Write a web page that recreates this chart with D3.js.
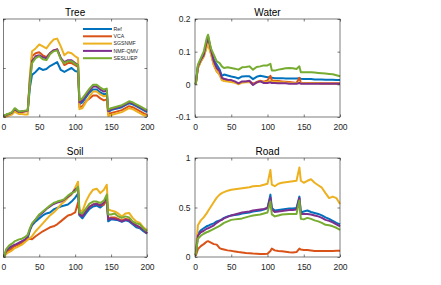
<!DOCTYPE html>
<html>
<head>
<meta charset="utf-8">
<script src="https://cdn.jsdelivr.net/npm/d3@7"></script>
<style>
  body { margin: 0; background: #fff; }
  svg { display: block; font-family: "Liberation Sans", Arial, sans-serif; }
</style>
</head>
<body>
<div id="vis"></div>
<script>
// band positions shared by every panel
const BANDS = [1, 4, 8, 12, 16, 18, 22, 26, 30, 34, 37, 40, 45, 50, 55, 60, 65, 70, 75, 80,
  85, 90, 95, 100, 104, 106, 110, 115, 120, 125, 130, 135, 140, 144, 146, 150, 155, 160,
  165, 170, 175, 180, 185, 190, 195, 200];

const SERIES_NAMES = ["Ref", "VCA", "SGSNMF", "NMF-QMV", "SESLUEP"];
const X_TICKS = [0, 50, 100, 150, 200];

// Tree
const TREE_REF = [.01,.02,.03,.04,.08,.07,.05,.055,.06,.065,.30,.43,.46,.50,.48,.49,.52,.54,.56,.48,
  .46,.48,.50,.47,.46,.13,.15,.20,.25,.28,.28,.25,.23,.24,.05,.07,.08,.09,.10,.12,.14,.13,.11,.09,.07,.05];
const TREE_VCA = [.01,.02,.03,.04,.075,.065,.045,.05,.055,.06,.40,.62,.65,.66,.63,.61,.65,.68,.69,.60,
  .53,.55,.55,.53,.51,.10,.11,.16,.19,.22,.22,.19,.17,.18,.03,.04,.05,.06,.07,.09,.11,.10,.08,.06,.04,.02];
const TREE_SGSNMF = [0,.005,.015,.025,.055,.045,.03,.03,.025,.025,.42,.67,.70,.74,.72,.70,.75,.79,.80,.72,
  .63,.66,.65,.62,.60,.08,.09,.15,.21,.26,.26,.23,.21,.22,.01,.02,.03,.04,.05,.07,.09,.08,.06,.04,.02,.01];
const TREE_QMV = [.01,.02,.03,.045,.08,.07,.05,.055,.06,.065,.36,.57,.62,.63,.61,.60,.65,.68,.69,.60,
  .56,.58,.58,.55,.53,.15,.17,.22,.27,.31,.31,.28,.26,.27,.06,.08,.09,.10,.11,.13,.15,.14,.12,.10,.08,.06];
const TREE_SESLUEP = [.015,.025,.035,.05,.09,.08,.055,.06,.065,.07,.34,.55,.60,.62,.59,.58,.64,.67,.68,.59,
  .55,.57,.57,.54,.53,.17,.19,.24,.29,.33,.33,.30,.28,.29,.075,.09,.10,.11,.12,.14,.16,.15,.13,.11,.09,.07];

// Water
const WATER_REF = [0,.055,.075,.09,.125,.14,.105,.075,.06,.045,.026,.03,.027,.024,.022,.018,.024,.025,.025,.016,
  .023,.026,.024,.022,.022,.02,.019,.019,.019,.018,.018,.018,.018,.019,.017,.016,.016,.016,.015,.015,.015,.014,.014,.014,.013,.013];
const WATER_VCA = [0,.05,.07,.085,.115,.127,.095,.06,.04,.03,.016,.012,.011,.009,.006,.002,.007,.008,.009,.002,
  .007,.011,.008,.012,.026,.012,.011,.01,.009,.008,.007,.006,.004,.02,.004,.004,.004,.004,.004,.004,.003,.003,.003,.003,.003,.003];
const WATER_SGSNMF = [0,.05,.07,.085,.112,.123,.093,.058,.04,.028,.013,.01,.009,.007,.005,0,.005,.006,.007,0,
  .005,.009,.006,.008,.01,.008,.008,.007,.006,.006,.005,.004,.003,.006,.003,.003,.003,.003,.003,.003,.002,.002,.002,.002,.002,.002];
const WATER_QMV = [0,.055,.075,.09,.13,.147,.105,.07,.05,.04,.02,.017,.014,.013,.009,.003,.009,.009,.011,-.002,
  .006,.009,.004,.004,.006,.004,.004,.003,.003,.003,.002,.002,.002,.004,.002,.002,.002,.002,.002,.002,.002,.002,.002,.002,.002,.002];
const WATER_SESLUEP = [0,.06,.08,.10,.14,.152,.11,.09,.07,.065,.055,.05,.052,.05,.048,.045,.052,.053,.055,.045,
  .053,.055,.058,.058,.063,.042,.042,.045,.047,.049,.05,.049,.047,.055,.037,.037,.037,.037,.036,.035,.034,.033,.032,.031,.028,.025];

// Soil
const SOIL_REF = [0,.05,.08,.095,.115,.12,.135,.15,.165,.19,.27,.32,.36,.39,.42,.44,.45,.48,.495,.51,
  .52,.53,.56,.60,.64,.42,.39,.44,.485,.51,.52,.50,.53,.60,.36,.38,.375,.37,.355,.37,.36,.33,.30,.29,.26,.235];
const SOIL_VCA = [0,.04,.065,.085,.11,.115,.125,.14,.16,.18,.185,.18,.21,.235,.26,.28,.30,.31,.33,.36,
  .39,.42,.43,.45,.55,.43,.43,.48,.51,.53,.54,.52,.53,.585,.39,.40,.40,.385,.37,.385,.38,.345,.32,.30,.28,.24];
const SOIL_SGSNMF = [0,.03,.05,.065,.09,.095,.11,.125,.15,.175,.19,.21,.26,.30,.34,.38,.42,.45,.485,.53,
  .56,.60,.63,.70,.76,.48,.46,.56,.63,.68,.69,.645,.68,.73,.48,.47,.46,.44,.41,.44,.445,.395,.36,.345,.30,.27];
const SOIL_QMV = [0,.065,.095,.11,.125,.13,.145,.16,.175,.21,.28,.33,.38,.42,.45,.485,.51,.535,.55,.56,
  .58,.61,.64,.68,.70,.43,.41,.46,.505,.53,.535,.52,.55,.605,.38,.39,.385,.375,.36,.375,.37,.34,.32,.30,.28,.24];
const SOIL_SESLUEP = [0,.08,.115,.135,.16,.165,.178,.185,.20,.225,.29,.34,.38,.43,.46,.49,.52,.545,.56,.57,
  .585,.62,.645,.66,.71,.45,.44,.49,.54,.56,.56,.545,.57,.63,.43,.43,.44,.41,.395,.41,.40,.36,.34,.33,.29,.26];

// Road
const ROAD_REF = [.02,.235,.27,.29,.31,.315,.33,.34,.36,.37,.38,.395,.41,.42,.425,.43,.44,.445,.45,.46,
  .465,.47,.48,.495,.63,.495,.47,.475,.48,.485,.49,.49,.495,.61,.45,.46,.47,.455,.445,.435,.42,.40,.385,.365,.345,.33];
const ROAD_VCA = [.01,.08,.11,.13,.155,.16,.145,.13,.125,.09,.08,.075,.067,.062,.056,.05,.045,.04,.038,.035,
  .033,.03,.03,.032,.06,.085,.067,.06,.057,.052,.047,.045,.05,.085,.075,.07,.07,.065,.06,.06,.06,.06,.06,.06,.062,.063];
const ROAD_SGSNMF = [.03,.32,.37,.40,.44,.465,.51,.555,.60,.63,.645,.655,.67,.68,.685,.69,.695,.70,.705,.715,
  .718,.72,.73,.74,.88,.73,.715,.74,.75,.755,.76,.765,.77,.905,.77,.75,.77,.785,.75,.725,.70,.645,.595,.61,.595,.535];
const ROAD_QMV = [.02,.215,.25,.265,.285,.29,.305,.32,.345,.365,.375,.39,.405,.42,.43,.44,.45,.455,.46,.47,
  .475,.48,.485,.495,.60,.48,.455,.46,.465,.47,.475,.475,.48,.595,.435,.435,.435,.43,.42,.41,.395,.375,.365,.35,.33,.31];
const ROAD_SESLUEP = [.02,.185,.215,.235,.25,.255,.27,.285,.30,.315,.33,.345,.36,.375,.38,.385,.39,.40,.41,.42,
  .425,.43,.44,.45,.56,.43,.41,.42,.43,.433,.435,.435,.435,.57,.385,.38,.395,.385,.37,.36,.345,.325,.32,.31,.295,.275];

// styles
const COLORS = ["#0072BD", "#D95319", "#EDB120", "#7E2F8E", "#77AC30"];
const AXIS_COLOR = "#262626";
const LINE_WIDTH = 2;

const FRAME_WIDTH = 441;
const FRAME_HEIGHT = 285;

// each panel: title, series, y range, box position
// (left column y labels fall outside the figure, so they are not drawn)
const PANELS = [
  {title: "Tree", series: [TREE_REF, TREE_VCA, TREE_SGSNMF, TREE_QMV, TREE_SESLUEP],
   yDomain: [0, 1], yTicks: [0, 0.5, 1], yLabels: false,
   left: 3.3, right: 147, top: 19, bottom: 117, legend: true},
  {title: "Water", series: [WATER_REF, WATER_VCA, WATER_SGSNMF, WATER_QMV, WATER_SESLUEP],
   yDomain: [-0.1, 0.2], yTicks: [-0.1, 0, 0.1, 0.2], yLabels: true,
   left: 195, right: 340, top: 19, bottom: 117},
  {title: "Soil", series: [SOIL_REF, SOIL_VCA, SOIL_SGSNMF, SOIL_QMV, SOIL_SESLUEP],
   yDomain: [0, 1], yTicks: [0, 0.5, 1], yLabels: false,
   left: 3.3, right: 147, top: 158, bottom: 257},
  {title: "Road", series: [ROAD_REF, ROAD_VCA, ROAD_SGSNMF, ROAD_QMV, ROAD_SESLUEP],
   yDomain: [0, 1], yTicks: [0, 0.5, 1], yLabels: true,
   left: 195, right: 340, top: 158, bottom: 257}
];

const SVG = d3.select("#vis")
  .append("svg")
    .attr("width", FRAME_WIDTH)
    .attr("height", FRAME_HEIGHT);

SVG.append("rect")
  .attr("width", FRAME_WIDTH)
  .attr("height", FRAME_HEIGHT)
  .attr("fill", "#fff");

PANELS.forEach((p) => {
  const X_SCALE = d3.scaleLinear().domain([0, 200]).range([p.left, p.right]);
  const Y_SCALE = d3.scaleLinear().domain(p.yDomain).range([p.bottom, p.top]);
  const fmt = (d) => String(d);

  const g = SVG.append("g");

  // lines
  const line = d3.line()
    .x((d, i) => X_SCALE(BANDS[i]))
    .y((d) => Y_SCALE(d));

  p.series.forEach((vals, k) => {
    g.append("path")
      .datum(vals)
      .attr("d", line)
      .attr("fill", "none")
      .attr("stroke", COLORS[k])
      .attr("stroke-width", LINE_WIDTH)
      .attr("stroke-linejoin", "round");
  });

  // bottom axis with inward ticks
  const xAxis = g.append("g")
    .attr("transform", "translate(0," + p.bottom + ")")
    .call(d3.axisBottom(X_SCALE).tickValues(X_TICKS).tickFormat(fmt)
      .tickSizeInner(-2.5).tickSizeOuter(0).tickPadding(7));
  // top ticks
  const xTop = g.append("g")
    .attr("transform", "translate(0," + p.top + ")")
    .call(d3.axisTop(X_SCALE).tickValues(X_TICKS).tickFormat("")
      .tickSizeInner(-2.5).tickSizeOuter(0));

  // left axis
  const yAxis = g.append("g")
    .attr("transform", "translate(" + p.left + ",0)")
    .call(d3.axisLeft(Y_SCALE).tickValues(p.yTicks).tickFormat(p.yLabels ? fmt : "")
      .tickSizeInner(-2.5).tickSizeOuter(0).tickPadding(4.5));
  // right ticks
  const yRight = g.append("g")
    .attr("transform", "translate(" + p.right + ",0)")
    .call(d3.axisRight(Y_SCALE).tickValues(p.yTicks).tickFormat("")
      .tickSizeInner(-2.5).tickSizeOuter(0));

  [xAxis, xTop, yAxis, yRight].forEach((a) => {
    a.select(".domain").remove();
    a.selectAll("line").attr("stroke", AXIS_COLOR).attr("stroke-width", 0.6);
    a.selectAll("text")
      .attr("fill", AXIS_COLOR)
      .attr("font-size", "8.5px")
      .attr("font-family", "Liberation Sans, Arial, sans-serif");
  });

  // box
  g.append("rect")
    .attr("x", p.left)
    .attr("y", p.top)
    .attr("width", p.right - p.left)
    .attr("height", p.bottom - p.top)
    .attr("fill", "none")
    .attr("stroke", AXIS_COLOR)
    .attr("stroke-width", 0.6);

  // title
  g.append("text")
    .attr("x", (p.left + p.right) / 2)
    .attr("y", p.top - 3.5)
    .attr("text-anchor", "middle")
    .attr("font-size", "10px")
    .attr("fill", "#000")
    .text(p.title);

  // legend
  if (p.legend) {
    const leg = g.append("g");
    SERIES_NAMES.forEach((name, k) => {
      const y = 29 + k * 7.3;
      leg.append("line")
        .attr("x1", 83).attr("x2", 112)
        .attr("y1", y).attr("y2", y)
        .attr("stroke", COLORS[k])
        .attr("stroke-width", LINE_WIDTH);
      leg.append("text")
        .attr("x", 113.5)
        .attr("y", y)
        .attr("dy", "0.35em")
        .attr("font-size", "5.2px")
        .attr("fill", AXIS_COLOR)
        .text(name);
    });
  }
});
</script>
</body>
</html>
